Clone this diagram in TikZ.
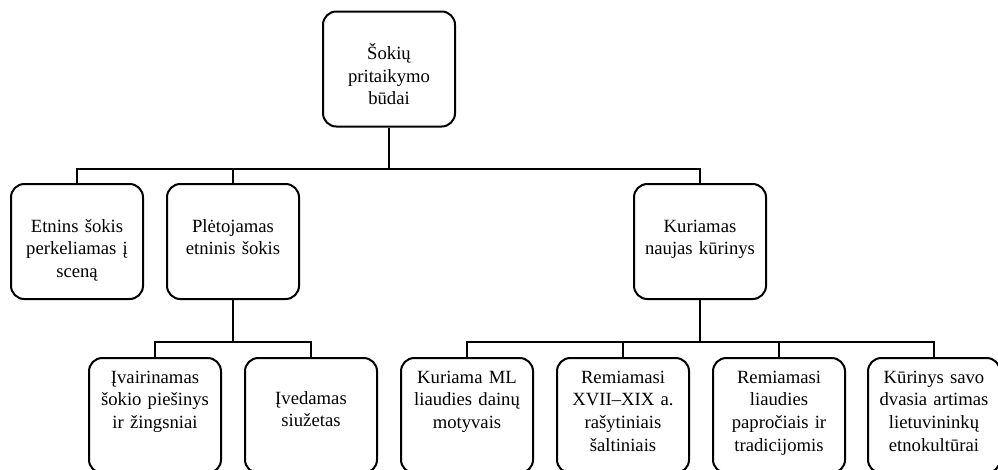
\documentclass[tikz,border=0pt]{standalone}
\usepackage{fontspec}
\setmainfont{Liberation Serif}
\usetikzlibrary{positioning}
\tikzset{budas/.style={draw, line width=1.5pt, rounded corners=10pt, align=center,
  text width=95pt, minimum width=99pt, inner xsep=2pt, inner ysep=0pt,
  font=\fontsize{14pt}{17pt}\selectfont}}
\tikzset{virsus/.style={budas, text height=36pt, text depth=50.25pt}}
\tikzset{apacia/.style={budas, text height=18.75pt, text depth=67.5pt}}
\tikzset{jung/.style={line width=1.5pt}}

\begin{document}
\begin{tikzpicture}[x=0.75pt,y=-0.75pt]
\useasboundingbox (0,0) rectangle (998,469);
% lygiai jungtims
\coordinate (lygA) at (0,169);
\coordinate (lygB) at (0,342);
% virsus
\node[virsus] (saknis) at (389,69) {Šokių\\pritaikymo\\būdai};
% antras lygis
\node[virsus] (etninis) at (77,241.5) {Etnins šokis\\perkeliamas į\\sceną};
\node[virsus] (pletojamas) at (233,241.5) {Plėtojamas\\etninis šokis};
\node[virsus] (kuriamas) at (700,241.5) {Kuriamas\\naujas kūrinys};
% trecias lygis
\node[apacia] (ivair) at (155,415.5) {Įvairinamas\\šokio piešinys\\ir žingsniai};
\node[budas, text height=34.5pt, text depth=51.75pt] (ived) at (311,415.5) {Įvedamas\\siužetas};
\node[apacia] (motyvai) at (467,415.5) {Kuriama ML\\liaudies dainų\\motyvais};
\node[apacia] (saltiniai) at (623,415.5) {Remiamasi\\XVII–XIX a.\\rašytiniais\\šaltiniais};
\node[apacia] (papr) at (779,415.5) {Remiamasi\\liaudies\\papročiais ir\\tradicijomis};
\node[apacia] (kurinys) at (934,415.5) {Kūrinys savo\\dvasia artimas\\lietuvininkų\\etnokultūrai};
% jungtys
\draw[jung] (saknis.south) -- (saknis |- lygA);
\draw[jung] (etninis.north) |- (kuriamas |- lygA) -- (kuriamas.north);
\draw[jung] (pletojamas.north) -- (pletojamas |- lygA);
\draw[jung] (pletojamas.south) -- (pletojamas |- lygB);
\draw[jung] (ivair.north) |- (ived |- lygB) -- (ived.north);
\draw[jung] (kuriamas.south) -- (kuriamas |- lygB);
\draw[jung] (motyvai.north) |- (kurinys |- lygB) -- (kurinys.north);
\foreach \v in {saltiniai,papr}{
\draw[jung] (\v.north) -- (\v |- lygB);
}
\end{tikzpicture}
\end{document}
